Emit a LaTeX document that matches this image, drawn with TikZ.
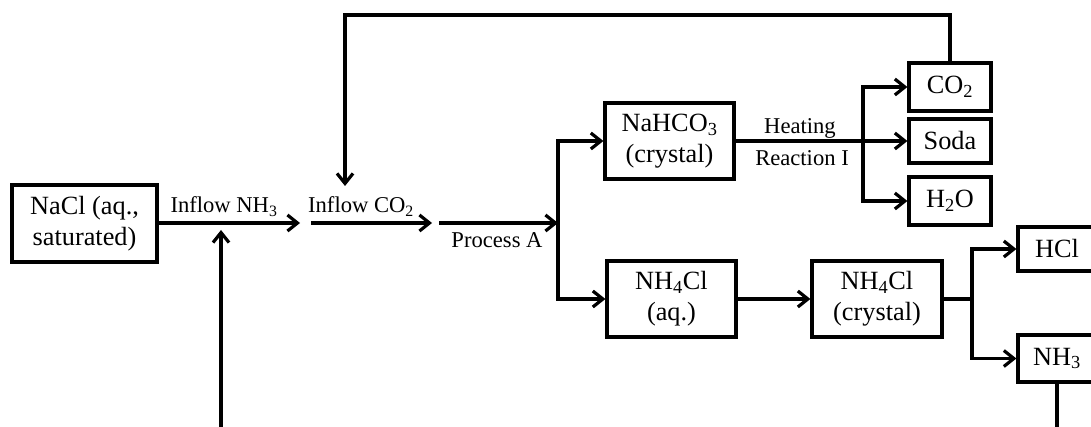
\documentclass[tikz,border=0pt]{standalone}
\usepackage{fontspec}
\setmainfont{Liberation Serif}
\usepackage{tikz}
\usetikzlibrary{arrows.meta, positioning}

\begin{document}
\begin{tikzpicture}[x=1pt, y=-1pt, line width=3.2pt,
box/.style={rectangle, draw, inner sep=0pt, align=center, font=\fontsize{26.3}{31}\selectfont},
lbl/.style={inner sep=0pt, font=\fontsize{22.6}{26}\selectfont},
arr/.style={-{Straight Barb[length=10pt, width=16pt]}}
]
\clip (0,0) rectangle (1091,427);

\node[box, minimum width=145pt, minimum height=77pt] (n1) at (84.5,223.5) {NaCl (aq.,\\saturated)};

\node[box, minimum width=129pt, minimum height=76pt] (n2) at (669.5,141) {NaHCO\textsubscript{3}\\(crystal)};
\node[box, minimum width=129pt, minimum height=76pt] (n3) at (671.5,299) {NH\textsubscript{4}Cl\\(aq.)};
\node[box, minimum width=130pt, minimum height=76pt] (n4) at (877,299) {NH\textsubscript{4}Cl\\(crystal)};

\node[box, minimum width=82pt, minimum height=48pt] (n5) at (950,87) {CO\textsubscript{2}};
\node[box, minimum width=82pt, minimum height=44pt] (n6) at (950,141) {Soda};
\node[box, minimum width=82pt, minimum height=48pt] (n7) at (950,201) {H\textsubscript{2}O};

\node[box, minimum width=78pt, minimum height=44pt] (n8) at (1057,249) {HCl};
\node[box, minimum width=78pt, minimum height=47pt] (n9) at (1057,358.5) {NH\textsubscript{3}};

\node[lbl, anchor=base] (l1) at (224,213) {Inflow NH\textsubscript{3}};
\node[lbl, anchor=base] (l2) at (361,213) {Inflow CO\textsubscript{2}};
\node[lbl] (l3) at (497,240) {Process A};
\node[lbl] (l4) at (800,128) {Heating};
\node[lbl] (l5) at (802,158) {Reaction I};

\coordinate (a1) at (300,223);
\coordinate (a2) at (311,223);
\coordinate (a3) at (432,223);
\coordinate (a4) at (439,223);
\coordinate (j1) at (558,223);
\coordinate (j2) at (863,141);
\coordinate (j3) at (972,299);
\coordinate (t1) at (345,15);
\coordinate (t2) at (345,186);
\coordinate (b1) at (221,427);
\coordinate (b2) at (221,230);
\coordinate (b3) at (1057,427);

\draw[arr] (n1.east |- a1) -- (a1);
\draw[arr] (a2) -- (a3);
\draw[arr] (a4) -- (j1);
\draw[arr] (b1) -- (b2);
\draw[arr] (n5.north) |- (t1) -- (t2);

\draw[arr] (j1) |- (n2);
\draw[arr] (j1) |- (n3);
\draw[arr] (n3) -- (n4);

\draw[arr] (n2) -- (n6);
\draw[arr] (j2) |- (n5);
\draw[arr] (j2) |- (n7);

\draw (n4) -- (j3);
\draw[arr] (j3) |- (n8);
\draw[arr] (j3) |- (n9);
\draw (n9) -- (b3);

\end{tikzpicture}
\end{document}
